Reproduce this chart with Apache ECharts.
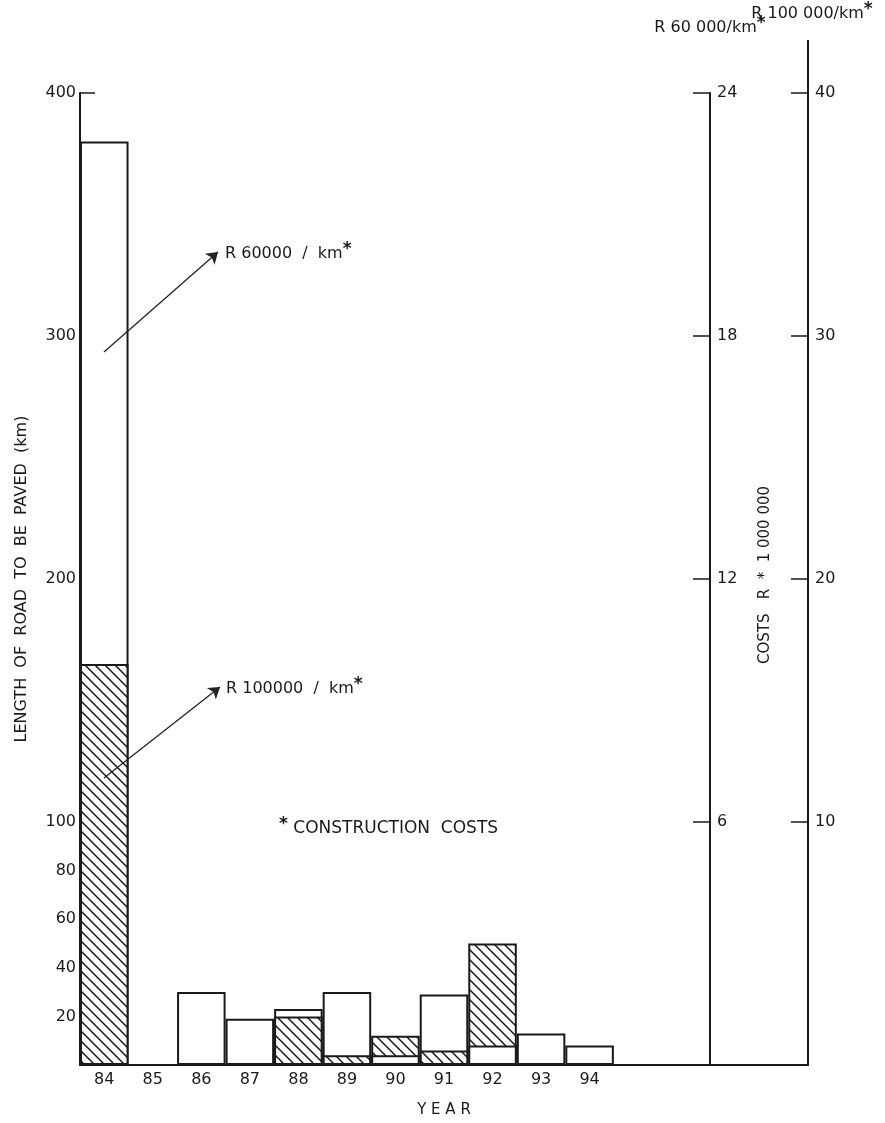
<!DOCTYPE html>
<html><head><meta charset="utf-8">
<script src="https://cdn.jsdelivr.net/npm/echarts@6/dist/echarts.min.js"></script>
<style>html,body{margin:0;padding:0;background:#fff}#c{width:885px;height:1123px}</style>
</head><body><div id="c"></div>
<script>
// ---- data ----
const years = ['84','85','86','87','88','89','90','91','92','93','94'];
const padCats = [' ','  ','   ','    '];
const roadWhite = [380, 0, 30, 19, 23, 30, 4, 29, 8, 13, 8];     // km (R 60 000/km)
const roadHatched = [165, 0, 0, 0, 20, 4, 12, 6, 50, 0, 0];      // km (R 100 000/km)
const leftTicks = [20, 40, 60, 80, 100, 200, 300, 400];
const cost60Ticks = [6, 12, 18, 24];
const cost100Ticks = [10, 20, 30, 40];

const FONT = 'DejaVu Sans';
const INK = '#1a1a1a';

function hatchCanvas() {
  const s = 10, c = document.createElement('canvas');
  c.width = s; c.height = s;
  const g = c.getContext('2d');
  g.fillStyle = '#fff'; g.fillRect(0, 0, s, s);
  g.strokeStyle = '#111'; g.lineWidth = 1.4;
  g.beginPath();
  g.moveTo(-1, -1); g.lineTo(s + 1, s + 1);
  g.moveTo(-1, s - 1); g.lineTo(1, s + 1);
  g.moveTo(s - 1, -1); g.lineTo(s + 1, 1);
  g.stroke();
  return c;
}
const hatch = { image: hatchCanvas(), repeat: 'repeat' };

const cats = years.concat(padCats);
const backData = cats.map((_, i) => {
  const w = roadWhite[i] || 0, h = roadHatched[i] || 0;
  const big = Math.max(w, h);
  if (!big) return '-';
  return { value: big, itemStyle: { color: w >= h ? '#fff' : hatch } };
});
const frontData = cats.map((_, i) => {
  const w = roadWhite[i] || 0, h = roadHatched[i] || 0;
  const small = Math.min(w, h);
  if (!small) return '-';
  return { value: small, itemStyle: { color: w < h ? '#fff' : hatch } };
});

const star = { fontSize: 17, fontWeight: 'bold', fontFamily: FONT, color: INK, padding: [0, 0, 9, 0] };

const chart = echarts.init(document.getElementById('c'), null, { renderer: 'canvas' });
chart.setOption({
  animation: false,
  backgroundColor: '#fff',
  textStyle: { fontFamily: FONT, color: INK },
  grid: { left: 80, right: 77, top: 93, bottom: 57 },
  xAxis: {
    type: 'category', data: cats,
    axisLine: { lineStyle: { color: INK, width: 2 } },
    axisTick: { show: false },
    axisLabel: { color: INK, fontSize: 16, fontFamily: FONT, margin: 7 },
    name: 'Y E A R', nameLocation: 'middle', nameGap: 38,
    nameTextStyle: { color: INK, fontSize: 15, fontFamily: FONT }
  },
  yAxis: [
    {
      type: 'value', position: 'left', min: 0, max: 400,
      axisLine: { show: true, lineStyle: { color: INK, width: 2 } },
      axisTick: { show: true, inside: true, length: 15, customValues: leftTicks, lineStyle: { color: INK, width: 1.5 } },
      axisLabel: { color: INK, fontSize: 16, fontFamily: FONT, margin: 4, customValues: leftTicks },
      splitLine: { show: false },
      name: 'LENGTH  OF  ROAD  TO  BE  PAVED  (km)', nameLocation: 'middle', nameGap: 50,
      nameTextStyle: { color: INK, fontSize: 16, fontFamily: FONT }
    },
    {
      type: 'value', position: 'right', offset: -98, min: 0, max: 24,
      axisLine: { show: true, lineStyle: { color: INK, width: 2 } },
      axisTick: { show: true, inside: true, length: 17, customValues: cost60Ticks, lineStyle: { color: INK, width: 1.5 } },
      axisLabel: { color: INK, fontSize: 16, fontFamily: FONT, margin: 7, customValues: cost60Ticks },
      splitLine: { show: false },
      name: 'R 60 000/km{s|*}', nameLocation: 'end', nameGap: 52,
      nameTextStyle: { color: INK, fontSize: 16, fontFamily: FONT, rich: { s: star } }
    },
    {
      type: 'value', position: 'right', offset: 0, min: 0, max: 40,
      axisLine: { show: true, lineStyle: { color: INK, width: 2 } },
      axisTick: { show: true, inside: true, length: 17, customValues: cost100Ticks, lineStyle: { color: INK, width: 1.5 } },
      axisLabel: { color: INK, fontSize: 16, fontFamily: FONT, margin: 7, customValues: cost100Ticks },
      splitLine: { show: false },
      name: 'R 100 000/km{s|*}', nameLocation: 'end', nameGap: 66,
      nameTextStyle: { color: INK, fontSize: 16, fontFamily: FONT, rich: { s: star }, padding: [0, 0, 0, 8] }
    }
  ],
  series: [
    {
      type: 'bar', name: 'back', yAxisIndex: 0, data: backData,
      barGap: '-100%', barCategoryGap: '0%',
      itemStyle: { borderColor: INK, borderWidth: 2 }
    },
    {
      type: 'bar', name: 'front', yAxisIndex: 0, data: frontData,
      barGap: '-100%', barCategoryGap: '0%',
      itemStyle: { borderColor: INK, borderWidth: 2 },
      markLine: {
        silent: true, symbol: ['none', 'arrow'], symbolSize: 11,
        lineStyle: { color: '#222', width: 1.3, type: 'solid' },
        label: { show: false },
        data: [
          [{ x: 104, y: 352 }, { x: 218, y: 252 }],
          [{ x: 104, y: 778 }, { x: 220, y: 687 }]
        ]
      }
    }
  ],
  graphic: [
    { type: 'line', shape: { x1: 808, y1: 40, x2: 808, y2: 93 }, style: { stroke: INK, lineWidth: 2 } },
    { type: 'text', x: 225, y: 254, style: { text: 'R 60000  /  km{s|*}', fill: INK, fontSize: 16, fontFamily: FONT, verticalAlign: 'middle', rich: { s: star } } },
    { type: 'text', x: 226, y: 689, style: { text: 'R 100000  /  km{s|*}', fill: INK, fontSize: 16, fontFamily: FONT, verticalAlign: 'middle', rich: { s: star } } },
    { type: 'text', x: 279, y: 829, style: { text: '{s|*} CONSTRUCTION  COSTS', fill: INK, fontSize: 17, fontFamily: FONT, verticalAlign: 'middle', rich: { s: star } } },
    { type: 'text', x: 765, y: 575, rotation: Math.PI / 2, style: { text: 'COSTS   R  *  1 000 000', fill: INK, fontSize: 15, fontFamily: FONT, align: 'center', verticalAlign: 'middle' } }
  ]
});
</script>
</body></html>
